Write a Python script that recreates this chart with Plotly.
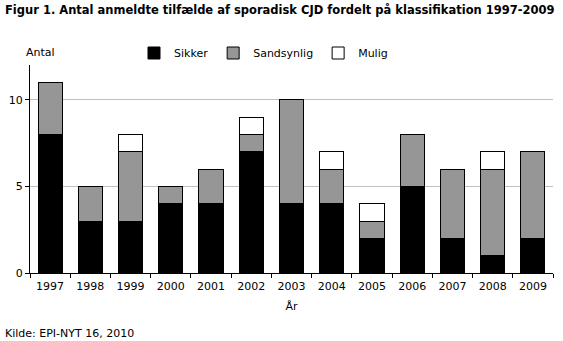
import plotly.graph_objects as go

years = ["1997","1998","1999","2000","2001","2002","2003","2004","2005","2006","2007","2008","2009"]
sikker =      [8, 3, 3, 4, 4, 7, 4, 4, 2, 5, 2, 1, 2]
sandsynlig =  [3, 2, 4, 1, 2, 1, 6, 2, 1, 3, 4, 5, 5]
mulig =       [0, 0, 1, 0, 0, 1, 0, 1, 1, 0, 0, 1, 0]

FONT = "DejaVu Sans"
L, R, T, B = 30, 10, 65, 68
W, H = 563, 341
pw = W - L - R
ph = H - T - B

def px(x):
    return (x - L) / pw
def py(y):
    return (H - B - y) / ph

fig = go.Figure()
for name, vals, col in [("Sikker", sikker, "#000000"),
                        ("Sandsynlig", sandsynlig, "#969696"),
                        ("Mulig", mulig, "#ffffff")]:
    fig.add_trace(go.Bar(x=years, y=vals, name=name,
                         marker=dict(color=col, line=dict(color="#000000", width=1))))

fig.update_layout(
    barmode="stack", bargap=0.4,
    width=W, height=H,
    margin=dict(l=L, r=R, t=T, b=B),
    paper_bgcolor="white", plot_bgcolor="white",
    font=dict(family=FONT, size=11, color="black"),
    showlegend=True,
    legend=dict(orientation="h", x=px(134), y=py(53), xanchor="left", yanchor="middle",
                font=dict(family=FONT, size=11), bgcolor="rgba(0,0,0,0)",
                itemwidth=30, traceorder="normal"),
    xaxis=dict(type="category", showline=True, linecolor="black", linewidth=1,
               ticks="outside", tickson="boundaries", ticklen=4, tickcolor="black",
               showgrid=False, tickfont=dict(size=11), ticklabelstandoff=3,
               title=dict(text="År", font=dict(size=11), standoff=10)),
    yaxis=dict(range=[0, 12], tickvals=[0, 5, 10], showline=True, linecolor="black",
               linewidth=1, ticks="outside", ticklen=4, tickcolor="black",
               showgrid=True, gridcolor="#c0c0c0", gridwidth=1, zeroline=False,
               tickfont=dict(size=11)),
    annotations=[
        dict(text="<b>Figur 1. Antal anmeldte tilfælde af sporadisk CJD fordelt på klassifikation 1997-2009</b>",
             xref="paper", yref="paper", x=px(3), y=py(10), xanchor="left", yanchor="middle",
             showarrow=False, font=dict(family=FONT, size=11.5)),
        dict(text="Antal", xref="paper", yref="paper", x=px(24), y=py(52),
             xanchor="left", yanchor="middle", showarrow=False, font=dict(size=11)),
        dict(text="Kilde: EPI-NYT 16, 2010", xref="paper", yref="paper", x=px(3), y=py(333),
             xanchor="left", yanchor="middle", showarrow=False, font=dict(size=11)),
    ],
)

fig.write_html("out.html")
